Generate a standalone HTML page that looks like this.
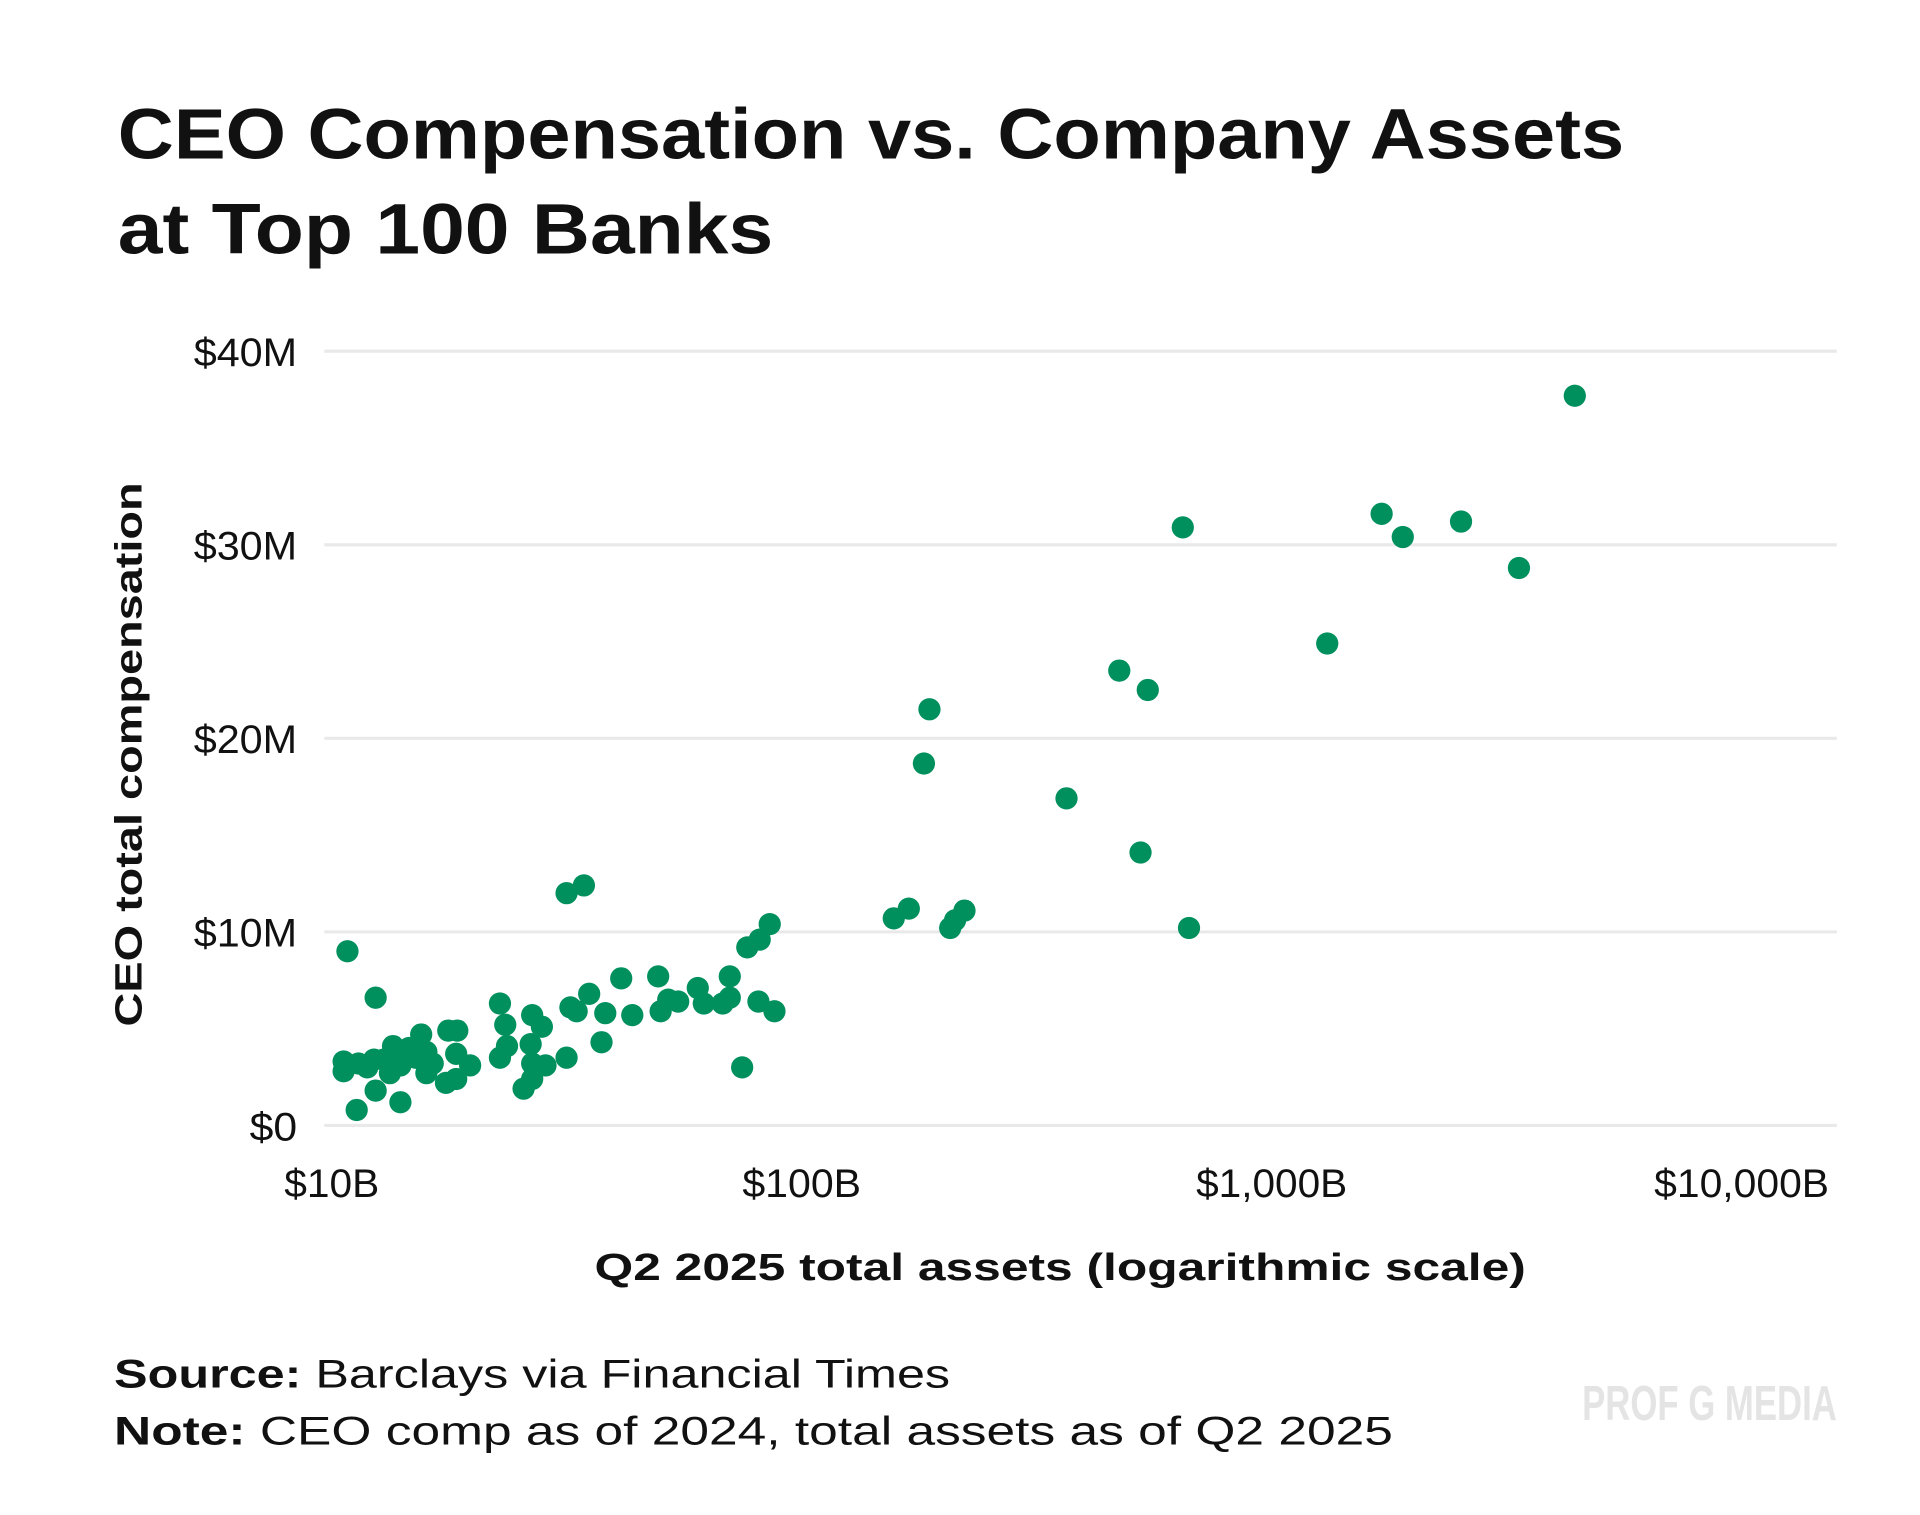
<!DOCTYPE html>
<html><head><meta charset="utf-8"><style>
html,body{margin:0;padding:0;background:#fff;}
svg{display:block;font-family:"Liberation Sans",sans-serif;}
</style></head><body>
<svg id="chart" width="1920" height="1515" viewBox="0 0 1552 1225" xmlns="http://www.w3.org/2000/svg">
<rect width="1552" height="1225" fill="#fff"/>
<text x="95" y="128" font-size="58" font-weight="bold" fill="#111" textLength="1218" lengthAdjust="spacingAndGlyphs">CEO Compensation vs. Company Assets</text>
<text x="95" y="205" font-size="58" font-weight="bold" fill="#111" textLength="530" lengthAdjust="spacingAndGlyphs">at Top 100 Banks</text>
<g id="grid"></g>
<g id="yticks"></g>
<g id="xticks"></g>
<g id="dots"></g>
<text transform="translate(114,610) rotate(-90)" text-anchor="middle" font-size="31" font-weight="bold" fill="#111" textLength="440" lengthAdjust="spacingAndGlyphs">CEO total compensation</text>
<text x="857" y="1035" text-anchor="middle" font-size="31" font-weight="bold" fill="#111" textLength="753" lengthAdjust="spacingAndGlyphs">Q2 2025 total assets (logarithmic scale)</text>
<text x="92" y="1122" font-size="32" fill="#111" textLength="676" lengthAdjust="spacingAndGlyphs"><tspan font-weight="bold">Source:</tspan> Barclays via Financial Times</text>
<text x="92" y="1168" font-size="32" fill="#111" textLength="1034" lengthAdjust="spacingAndGlyphs"><tspan font-weight="bold">Note:</tspan> CEO comp as of 2024, total assets as of Q2 2025</text>
<text x="1485" y="1148" text-anchor="end" font-size="40" font-weight="bold" fill="#e4e4e4" textLength="206" lengthAdjust="spacingAndGlyphs">PROF G MEDIA</text>
</svg>
<script>
const yTickValues=[0,10,20,30,40];
const yTickLabels=["$0","$10M","$20M","$30M","$40M"];
const xTickValues=[10,100,1000,10000];
const xTickLabels=["$10B","$100B","$1,000B","$10,000B"];
const assetsB=[4416,1714,1901,2529,3359,647,1313,474,545,187,182,366,526,667,157,169,207,212,222,85.5,81.4,76.6,34.4,31.6,10.8,12.4,
41.3,49.5,60.1,70.3,43.6,50.1,52.0,54.6,61.9,67.9,70.3,80.9,87.5,74.7,37.5,35.3,32.2,38.2,33.2,31.6,28.0,26.7,22.8,23.4,23.6,22.8,26.5,26.7,26.7,28.5,25.6,
18.5,17.7,18.4,18.4,19.7,17.5,15.5,15.9,15.1,13.5,14.0,12.9,12.3,11.9,11.4,10.6,10.6,12.4,11.3,14.0,16.4,15.9,14.6,13.3];
const compM=[37.7,31.6,30.4,31.2,28.8,30.9,24.9,23.5,22.5,21.5,18.7,16.9,14.1,10.2,10.7,11.2,10.2,10.6,11.1,10.4,9.6,9.2,12.4,12.0,9.0,6.6,
7.6,7.7,7.1,7.7,5.7,5.9,6.5,6.4,6.3,6.3,6.6,6.4,5.9,3.0,4.3,6.8,6.1,5.8,5.9,3.5,5.1,5.7,6.3,5.2,4.1,3.5,4.2,3.2,2.4,3.1,1.9,
4.9,4.9,3.7,2.4,3.1,2.2,4.7,3.8,3.5,4.1,3.1,3.4,3.4,3.0,3.2,3.3,2.8,1.8,0.8,1.2,3.2,2.7,4.0,2.7];

const NS="http://www.w3.org/2000/svg";
const X0=268, DEC=380, Y0=910, PERM=15.65;
const CHAR_W=19.2;
function xScale(a){return X0+DEC*Math.log10(a/10);}
function yScale(v){return Y0-v*PERM;}
function labelWidth(s){let w=0;for(const ch of s){w+= (ch===','?7:(ch==='M'?26:CHAR_W));}return w;}
function mk(tag,attrs,parent){const e=document.createElementNS(NS,tag);for(const k in attrs)e.setAttribute(k,attrs[k]);parent.appendChild(e);return e;}

const grid=document.getElementById('grid'),yt=document.getElementById('yticks'),xt=document.getElementById('xticks'),dots=document.getElementById('dots');
yTickValues.forEach((v,i)=>{
  const l=mk('line',{x1:262,x2:1485,y1:yScale(v),y2:yScale(v),stroke:'#e9e9e9','stroke-width':2.5},grid);
  
  
  const t=mk('text',{x:240,y:yScale(v)+12,'text-anchor':'end','font-size':32,fill:'#111',textLength:labelWidth(yTickLabels[i]),lengthAdjust:'spacingAndGlyphs'},yt);
  
  
  t.textContent=yTickLabels[i];
});
xTickValues.forEach((v,i)=>{
  const t=mk('text',{x:xScale(v),y:968,'text-anchor':'middle','font-size':32,fill:'#111',textLength:labelWidth(xTickLabels[i]),lengthAdjust:'spacingAndGlyphs'},xt);
  
  
  t.textContent=xTickLabels[i];
});
assetsB.forEach((a,i)=>{
  const c=mk('circle',{cx:xScale(a),cy:yScale(compM[i]),r:9,fill:'#00905e'},dots);
  
  
});
</script>
</body></html>
